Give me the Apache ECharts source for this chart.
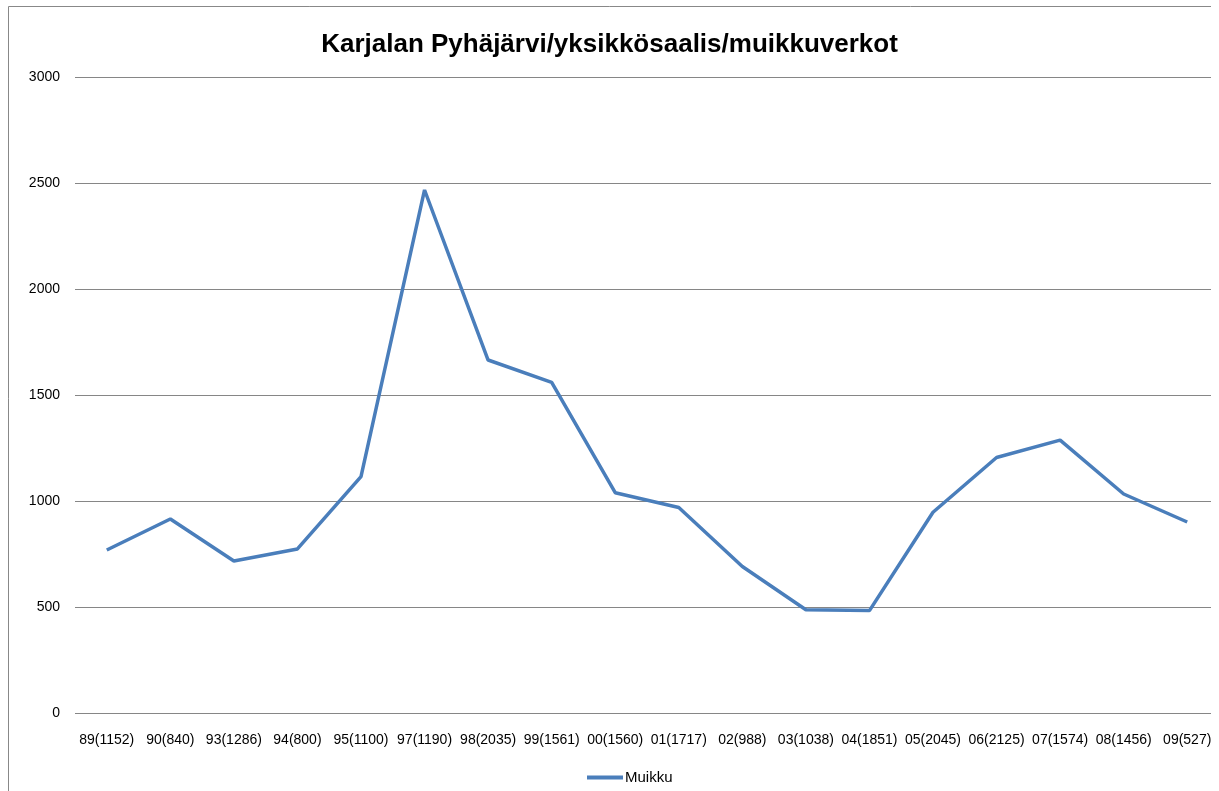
<!DOCTYPE html>
<html>
<head>
    <meta charset="utf-8">
    <title>Karjalan Pyhäjärvi</title>
</head>
<body style="margin:0;background:#fff;">
    <div id="main" style="width: 1219px; height: 791px;"></div>
    <script src="https://cdn.jsdelivr.net/npm/echarts@6/dist/echarts.min.js"></script>
    <script type="text/javascript">
        // vuosi(pyyntiponnistus) -> yksikkösaalis
        var categories = ['89(1152)', '90(840)', '93(1286)', '94(800)', '95(1100)', '97(1190)',
            '98(2035)', '99(1561)', '00(1560)', '01(1717)', '02(988)', '03(1038)',
            '04(1851)', '05(2045)', '06(2125)', '07(1574)', '08(1456)', '09(527)'];
        var muikku = [769, 915, 717, 774, 1115, 2467, 1665, 1560, 1039, 969, 691, 487,
            483, 947, 1205, 1287, 1033, 901];

        var chartDom = document.getElementById('main');
        var myChart = echarts.init(chartDom);
        var font = 'Liberation Sans';

        var option = {
            animation: false,
            title: {
                text: 'Karjalan Pyhäjärvi/yksikkösaalis/muikkuverkot',
                left: 'center',
                top: 27,
                textStyle: { fontFamily: font, fontSize: 26, fontWeight: 'bold', color: '#000' }
            },
            legend: {
                bottom: 1,
                left: 582,
                itemWidth: 36,
                itemHeight: 4,
                itemGap: 4,
                icon: 'rect',
                textStyle: { fontFamily: font, fontSize: 15, color: '#000', padding: [0, 0, 0, -3] },
                data: ['Muikku']
            },
            grid: { left: 75, right: -2, top: 77, bottom: 78, containLabel: false },
            xAxis: {
                type: 'category',
                data: categories,
                boundaryGap: true,
                axisLine: { show: false },
                axisTick: { show: false },
                axisLabel: { interval: 0, margin: 20, fontFamily: font, fontSize: 14, color: '#000' }
            },
            yAxis: {
                type: 'value',
                min: 0,
                max: 3000,
                interval: 500,
                axisLine: { show: false },
                axisTick: { show: false },
                axisLabel: {
                    margin: 15, fontFamily: font, fontSize: 14, color: '#000',
                    formatter: function (v) { return String(v); }
                },
                splitLine: { lineStyle: { color: '#868686', width: 1 } }
            },
            series: [{
                name: 'Muikku',
                type: 'line',
                data: muikku,
                showSymbol: false,
                symbol: 'none',
                lineStyle: { color: '#4a7ebb', width: 3.5 },
                itemStyle: { color: '#4a7ebb' }
            }],
            graphic: [
                { type: 'rect', z: 100, shape: { x: 1211, y: 0, width: 20, height: 791 }, style: { fill: '#fff' } },
                { type: 'line', z: 101, shape: { x1: 8.5, y1: 6.5, x2: 1211, y2: 6.5 }, style: { stroke: '#888', lineWidth: 1 } },
                { type: 'line', z: 101, shape: { x1: 8.5, y1: 6.5, x2: 8.5, y2: 791 }, style: { stroke: '#888', lineWidth: 1 } }
            ]
        };

        myChart.setOption(option);
    </script>
</body>
</html>
